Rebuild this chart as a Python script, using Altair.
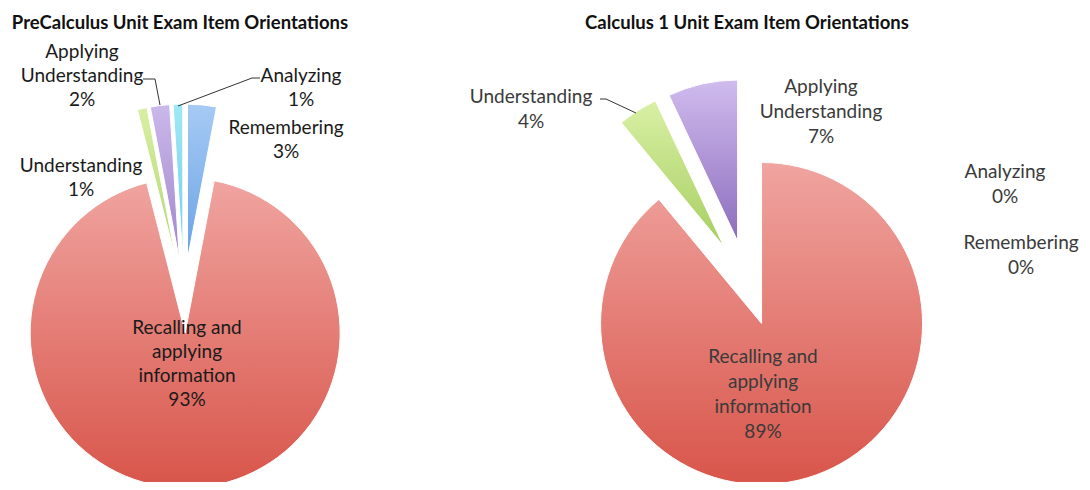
import altair as alt
import pandas as pd

# ---------------- data ----------------
categories = [
    "Remembering",
    "Recalling and applying information",
    "Understanding",
    "Applying Understanding",
    "Analyzing",
]
precalc_values = [3, 93, 1, 2, 1]
calc1_values = [0, 89, 4, 7, 0]
chart_titles = [
    "PreCalculus Unit Exam Item Orientations",
    "Calculus 1 Unit Exam Item Orientations",
]

# ---------------- layout / style ----------------
M = 8  # page margin
W, H = 1074, 474
FONT = "Lato"

display_names = {
    "Remembering": "Remembering",
    "Recalling and applying information": "Recalling and\napplying\ninformation",
    "Understanding": "Understanding",
    "Applying Understanding": "Applying\nUnderstanding",
    "Analyzing": "Analyzing",
}

gradients_left = {
    "Remembering": ("#A6CAF5", "#6AA2E4"),
    "Recalling and applying information": ("#F0A4A0", "#D8554A"),
    "Understanding": ("#D8EFA3", "#B2D672"),
    "Applying Understanding": ("#CBB8EA", "#A086CC"),
    "Analyzing": ("#A2E8F5", "#6ACFE4"),
}
gradients_right = {
    "Remembering": ("#A6CAF5", "#5A99DF"),
    "Recalling and applying information": ("#F0A4A0", "#D8554A"),
    "Understanding": ("#D9F0A5", "#A6CE60"),
    "Applying Understanding": ("#D0BCEE", "#8C6CBD"),
    "Analyzing": ("#A2E8F5", "#58C6DC"),
}

pies = [
    dict(
        title=chart_titles[0], values=precalc_values, gradients=gradients_left,
        cx=184, cy=296, r=155, d=37, text_color="#1a1a1a", title_pos=(180, 23),
        font_size=19, line_height=24,
        # first-line centres of each label, relative to the pie centre
        labels={
            "Remembering": (102, -168),
            "Recalling and applying information": (3, 32),
            "Understanding": (-103, -130),
            "Applying Understanding": (-102, -244),
            "Analyzing": (117, -220),
        },
        leaders=[
            [(-41, -217), (-29, -217), (-24, -191)],
            [(76, -218), (68, -218), (-6, -190)],
        ],
    ),
    dict(
        title=chart_titles[1], values=calc1_values, gradients=gradients_right,
        cx=747, cy=283, r=161, d=43, text_color="#3a3a3a", title_pos=(747, 23),
        font_size=19, line_height=25,
        labels={
            "Remembering": (274, -40),
            "Recalling and applying information": (16, 74),
            "Understanding": (-216, -186),
            "Applying Understanding": (74, -196),
            "Analyzing": (258, -111),
        },
        leaders=[
            [(-147, -184), (-141, -184), (-111, -170)],
        ],
    ),
]


def pie_layers(p):
    df = pd.DataFrame({
        "category": categories,
        "value": p["values"],
        "order": list(range(len(categories))),
    })
    cx, cy, r, d = p["cx"] - M, p["cy"] - M, p["r"], p["d"]
    base = (
        alt.Chart(df)
        .transform_window(cum="sum(value)", sort=[alt.SortField("order")], frame=[None, 0])
        .transform_calculate(start="datum.cum - datum.value")
        .transform_calculate(mid="(datum.cum - datum.value / 2) / 100 * 2 * PI")
        .transform_calculate(
            px=f"{cx} + {d} * sin(datum.mid)",
            py=f"{cy} - {d} * cos(datum.mid)",
        )
    )
    theta_scale = alt.Scale(domain=[0, 100], range=[0, 6.283185307179586])
    layers = []
    for cat in categories:
        top, bottom = p["gradients"][cat]
        grad = alt.LinearGradient(
            gradient="linear",
            stops=[alt.GradientStop(color=top, offset=0), alt.GradientStop(color=bottom, offset=1)],
            x1=0, x2=0, y1=0, y2=1,
        )
        layers.append(
            base.transform_filter((alt.datum.category == cat) & (alt.datum.value > 0))
            .mark_arc(outerRadius=r, fill=grad, stroke="white", strokeWidth=1)
            .encode(
                theta=alt.Theta("start:Q", scale=theta_scale),
                theta2=alt.Theta2("cum:Q"),
                x=alt.X("px:Q", scale=None, axis=None),
                y=alt.Y("py:Q", scale=None, axis=None),
            )
        )

    # leader lines
    rows = []
    for gi, pts in enumerate(p["leaders"]):
        for i, (dx, dy) in enumerate(pts):
            rows.append({"g": gi, "i": i, "lx": p["cx"] + dx - M, "ly": p["cy"] + dy - M})
    if rows:
        layers.append(
            alt.Chart(pd.DataFrame(rows))
            .mark_line(color="#333333", strokeWidth=1)
            .encode(
                x=alt.X("lx:Q", scale=None, axis=None),
                y=alt.Y("ly:Q", scale=None, axis=None),
                detail="g:N",
                order="i:Q",
            )
        )

    # labels
    lab = pd.DataFrame({
        "category": categories,
        "value": p["values"],
    })
    lab["text"] = [display_names[c] + "\n" + f"{v}%" for c, v in zip(categories, p["values"])]
    lab["tx"] = [p["cx"] + p["labels"][c][0] - M for c in categories]
    lab["ty"] = [p["cy"] + p["labels"][c][1] - M for c in categories]
    layers.append(
        alt.Chart(lab)
        .mark_text(font=FONT, fontSize=p["font_size"], lineBreak="\n", lineHeight=p["line_height"],
                   align="center", baseline="middle", color=p["text_color"])
        .encode(
            x=alt.X("tx:Q", scale=None, axis=None),
            y=alt.Y("ty:Q", scale=None, axis=None),
            text="text:N",
        )
    )

    # title
    tdf = pd.DataFrame({"t": [p["title"]], "tx": [p["title_pos"][0] - M], "ty": [p["title_pos"][1] - M]})
    layers.append(
        alt.Chart(tdf)
        .mark_text(font=FONT, fontSize=18.5, fontWeight="bold", align="center",
                   baseline="middle", color="#111111")
        .encode(
            x=alt.X("tx:Q", scale=None, axis=None),
            y=alt.Y("ty:Q", scale=None, axis=None),
            text="t:N",
        )
    )
    return layers


all_layers = []
for p in pies:
    all_layers.extend(pie_layers(p))

chart = (
    alt.layer(*all_layers)
    .properties(width=W, height=H, padding=0, autosize="none", background="white")
    .configure_view(stroke=None)
)

chart.save("out.html", embed_options={"renderer": "svg", "actions": False})
